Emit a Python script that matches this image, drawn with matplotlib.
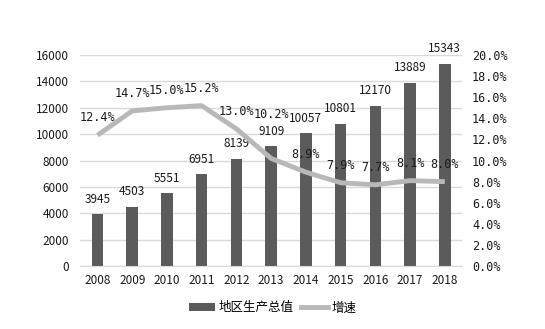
import matplotlib
matplotlib.use("Agg")
import matplotlib.pyplot as plt
import numpy as np
from matplotlib.patches import Patch
from matplotlib.lines import Line2D

plt.rcParams['font.family'] = ['Noto Sans CJK SC', 'DejaVu Sans']

years = ["2008", "2009", "2010", "2011", "2012", "2013", "2014", "2015", "2016", "2017", "2018"]
gdp = [3945, 4503, 5551, 6951, 8139, 9109, 10057, 10801, 12170, 13889, 15343]
growth = [12.4, 14.7, 15.0, 15.2, 13.0, 10.2, 8.9, 7.9, 7.7, 8.1, 8.0]

bar_color = "#5b5b5b"
line_color = "#b8b8b8"
grid_color = "#d9d9d9"
text_color = "#1a1a1a"

fig = plt.figure(figsize=(5.45, 3.29), dpi=100)
ax = fig.add_axes([0.147, 0.191, 0.701, 0.642])
ax2 = ax.twinx()

x = np.arange(len(years))
ax.bar(x, gdp, width=0.33, color=bar_color, zorder=2)
for xi, v in zip(x, gdp):
    ax.annotate(f"{v}", (xi, v), xytext=(0, 6), textcoords="offset points",
                ha="center", va="bottom", fontsize=8.5, color=text_color)

ax.set_ylim(0, 16000)
ax.set_yticks(np.arange(0, 16001, 2000))
ax.set_xlim(-0.5, len(years) - 0.5)
ax.set_xticks(x)
ax.set_xticklabels(years)
ax.grid(axis="y", color=grid_color, linewidth=1, zorder=0)
ax.set_axisbelow(True)

ax2.plot(x, growth, color=line_color, linewidth=3.5, solid_capstyle="butt", zorder=3)
for i, (xi, g) in enumerate(zip(x, growth)):
    # the 2013 label sits above the bar label it would otherwise collide with
    dy = 27 if years[i] == "2013" else 8
    ax2.annotate(f"{g:.1f}%", (xi, g), xytext=(0, dy), textcoords="offset points",
                 ha="center", va="bottom", fontsize=8.5, color=text_color,
                 family="DejaVu Sans Mono")
ax2.set_ylim(0, 20)
ax2.set_yticks(np.arange(0, 20.1, 2))
ax2.set_yticklabels([f"{t:.1f}%" for t in np.arange(0, 20.1, 2)], family="DejaVu Sans Mono")

for a in (ax, ax2):
    for s in a.spines.values():
        s.set_visible(False)
    a.tick_params(length=0, labelsize=8.5, colors=text_color)
ax.spines["bottom"].set_visible(True)
ax.spines["bottom"].set_color(grid_color)
ax.tick_params(axis="x", pad=6)
ax.tick_params(axis="y", pad=8)
ax2.tick_params(axis="y", pad=7)

handles = [Patch(facecolor=bar_color, edgecolor="none"),
           Line2D([0], [0], color=line_color, linewidth=3.5)]
fig.legend(handles, ["地区生产总值", "增速"], loc="center", bbox_to_anchor=(0.5, 0.064),
           ncol=2, frameon=False, fontsize=9, handlelength=2.1, columnspacing=0.6,
           handletextpad=0.3)

fig.savefig("out.png", dpi=100)
